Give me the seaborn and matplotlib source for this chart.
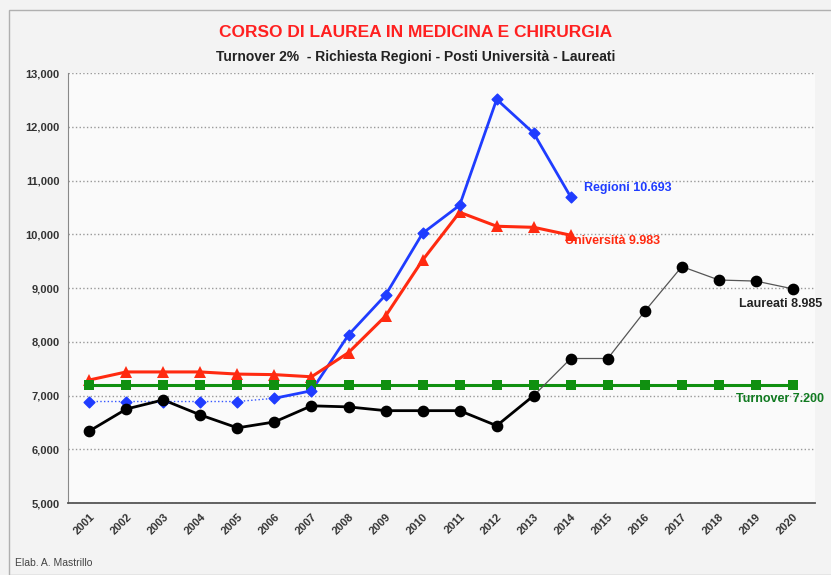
import matplotlib.pyplot as plt
import seaborn as sns
import numpy as np
import pandas as pd
from matplotlib.patches import Rectangle

sns.set_style("white")
plt.rcParams['font.family'] = ['Liberation Sans', 'DejaVu Sans']

# --- Data
years = [str(y) for y in range(2001, 2021)]
regioni = [6890, 6890, 6890, 6890, 6890, 6950, 7090, 8130, 8870, 10020,
           10540, 12510, 11880, 10693]
universita = [7290, 7440, 7440, 7440, 7400, 7390, 7350, 7800, 8480, 9520,
              10410, 10150, 10130, 9983]
laureati = [6340, 6750, 6920, 6640, 6400, 6510, 6810, 6790, 6720, 6720,
            6720, 6440, 7000, 7690, 7690, 8570, 9400, 9150, 9130, 8985]
turnover = [7200] * 20
y_ticks = [5000, 6000, 7000, 8000, 9000, 10000, 11000, 12000, 13000]

x_all = np.arange(len(years))

fig = plt.figure(figsize=(8.31, 5.75), dpi=100)
fig.patch.set_facecolor('#f3f3f3')
ax = fig.add_axes([0.082, 0.125, 0.899, 0.748])
ax.set_facecolor('#fafafa')

# frame around the whole picture
fig.patches.append(Rectangle((0.011, 0.0), 0.99, 0.982, transform=fig.transFigure,
                             fill=False, edgecolor='#b0b0b0', linewidth=1))

# --- Lines
# Regioni: faint dotted part then solid
sns.lineplot(x=x_all[:6], y=regioni[:6], color='#3355ff', linewidth=1,
             linestyle=':', ax=ax)
sns.lineplot(x=x_all[5:14], y=regioni[5:], color='#1f3cff', linewidth=2, ax=ax)
ax.scatter(x_all[:14], regioni, marker='D', s=30, color='#1f3cff', zorder=5)

sns.lineplot(x=x_all[:14], y=universita, color='#ff2a10', linewidth=2.2,
             marker='^', markersize=8, markeredgewidth=0, ax=ax)

sns.lineplot(x=x_all, y=turnover, color='#109010', linewidth=2.2,
             marker='s', markersize=6.5, markeredgewidth=0, ax=ax)

# Laureati: thick until 2013, thin afterwards
sns.lineplot(x=x_all[:13], y=laureati[:13], color='black', linewidth=2, ax=ax)
sns.lineplot(x=x_all[12:], y=laureati[12:], color='#555555', linewidth=0.9, ax=ax)
ax.scatter(x_all, laureati, marker='o', s=55, color='black', zorder=6)

# --- Labels at the end of the series
ax.text(13.35, regioni[-1] + 170, 'Regioni 10.693', color='#1f3cff',
        fontsize=9, fontweight='bold', va='center')
ax.text(12.85, universita[-1] - 110, 'Università 9.983', color='#ff2a10',
        fontsize=9, fontweight='bold', va='center')
ax.text(17.55, laureati[-1] - 280, 'Laureati 8.985', color='#222222',
        fontsize=9, fontweight='bold', va='center')
ax.text(17.45, 6930, 'Turnover 7.200', color='#107a20',
        fontsize=9, fontweight='bold', va='center')

# --- Axes
ax.set_xlim(-0.57, 19.6)
ax.set_ylim(5000, 13000)
ax.set_yticks(y_ticks)
ax.set_yticklabels([f'{v:,}' for v in y_ticks], fontsize=8, fontweight='bold',
                   color='#333333')
ax.set_xticks(x_all)
ax.set_xticklabels(years, rotation=45, ha='right', rotation_mode='anchor',
                   fontsize=8, fontweight='bold', color='#333333')
ax.tick_params(axis='both', length=3, color='#666666', pad=3)
ax.yaxis.grid(True, linestyle=':', color='#999999', linewidth=1)
for side in ['top', 'right']:
    ax.spines[side].set_visible(False)
ax.spines['left'].set_color('#888888')
ax.spines['bottom'].set_color('#555555')
ax.spines['bottom'].set_linewidth(1.3)

# --- Titles
fig.text(0.5, 0.943, 'CORSO DI LAUREA IN MEDICINA E CHIRURGIA', color='#ff2020',
         fontsize=12.5, fontweight='bold', ha='center', va='center')
fig.text(0.5, 0.901, 'Turnover 2%  - Richiesta Regioni - Posti Università - Laureati',
         color='#222222', fontsize=10, fontweight='bold', ha='center', va='center')
fig.text(0.018, 0.013, 'Elab. A. Mastrillo', color='#444444', fontsize=7.5,
         ha='left', va='bottom')

fig.savefig('out.png', dpi=100, facecolor=fig.get_facecolor())
plt.close()
